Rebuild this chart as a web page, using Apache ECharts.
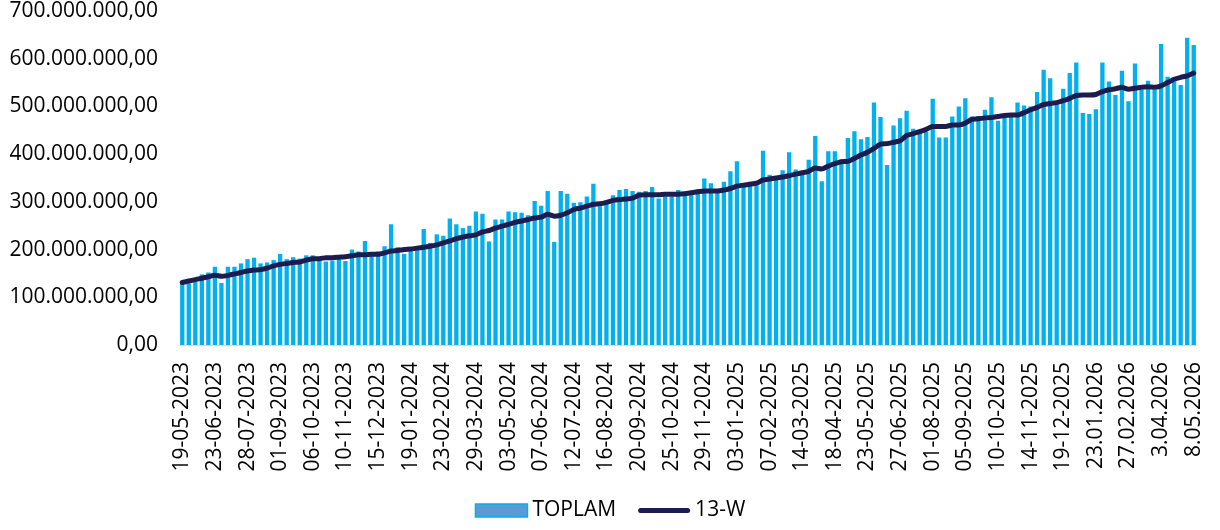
<!DOCTYPE html>
<html>
<head>
<meta charset="utf-8">
<title>TOPLAM - 13-W</title>
<script src="https://cdn.jsdelivr.net/npm/echarts@6/dist/echarts.min.js"></script>
<style>
  html, body { margin: 0; padding: 0; background: #fff; }
  #main { width: 1220px; height: 530px; }
</style>
</head>
<body>
<div id="main"></div>
<script>
// weekly totals, millions
var toplam = [
  132, 129, 132, 148, 152, 164, 130, 164, 164, 171,
  180, 183, 171, 173, 178, 191, 180, 184, 181, 188,
  188, 177, 175, 177, 188, 176, 200, 196, 218, 195,
  196, 207, 253, 205, 191, 198, 202, 243, 214, 232,
  229, 265, 253, 245, 250, 280, 275, 217, 263, 263,
  280, 278, 277, 272, 302, 292, 323, 216, 323, 317,
  298, 299, 311, 338, 291, 300, 314, 325, 327, 323,
  321, 323, 331, 307, 311, 311, 325, 314, 318, 326,
  349, 339, 325, 342, 364, 385, 332, 342, 335, 407,
  357, 347, 366, 404, 368, 364, 388, 438, 343, 406,
  406, 388, 434, 448, 431, 436, 508, 478, 377, 460,
  475, 491, 453, 451, 447, 516, 435, 435, 479, 500,
  517, 479, 480, 493, 519, 470, 477, 481, 508, 502,
  500, 530, 577, 559, 504, 537, 570, 592, 486, 484,
  494, 592, 552, 524, 575, 511, 590, 535, 554, 535,
  631, 562, 552, 545, 644, 629
]

// 13 week line, millions
var w13 = [
  131, 134, 137, 140, 143, 146, 144, 146, 149, 152,
  155, 157, 158, 161, 166, 169, 171, 173, 174, 178,
  181, 181, 183, 183, 184, 185, 187, 189, 189, 190,
  190, 193, 197, 198, 200, 201, 203, 205, 207, 210,
  214, 218, 223, 226, 229, 231, 237, 240, 245, 249,
  253, 257, 260, 263, 266, 268, 274, 270, 272, 277,
  284, 287, 291, 295, 296, 299, 303, 305, 306, 308,
  314, 315, 315, 315, 316, 316, 316, 317, 319, 321,
  323, 323, 323, 325, 328, 333, 335, 337, 339, 346,
  348, 350, 352, 355, 358, 361, 364, 371, 369, 375,
  380, 384, 385, 391, 398, 404, 412, 421, 422, 425,
  428, 439, 443, 447, 452, 458, 458, 458, 461, 461,
  465, 473, 474, 476, 477, 479, 481, 482, 482, 487,
  493, 498, 504, 506, 508, 512, 517, 523, 524, 524,
  525, 531, 535, 537, 540, 536, 538, 540, 541, 540,
  543, 550, 557, 561, 564, 570
]

// week dates, 19-05-2023 .. 8.05.2026
var firstWeek = Date.UTC(2023, 4, 19)
var dates = []
for (var i = 0; i < toplam.length; i++) {
  var d = new Date(firstWeek + i * 7 * 86400000)
  var dd = d.getUTCDate()
  var mm = ('0' + (d.getUTCMonth() + 1)).slice(-2)
  var yy = d.getUTCFullYear()
  if (yy >= 2026) {
    dates.push(dd + '.' + mm + '.' + yy)
  } else {
    dates.push(('0' + dd).slice(-2) + '-' + mm + '-' + yy)
  }
}

var yTicks = { min: 0, max: 700, step: 100 }

function trNumber (v) {
  var s = String(Math.round(v * 1000000)).replace(/\B(?=(\d{3})+(?!\d))/g, '.')
  return s + ',00'
}

var font = '"Open Sans", "Noto Sans", sans-serif'
var navy = '#1C1C4E'
var myChart = echarts.init(document.getElementById('main'))
myChart.setOption({
  animation: false,
  textStyle: { fontFamily: font, color: '#000' },
  grid: { left: 179, right: 23, top: 11, bottom: 185 },
  legend: {
    left: 'center',
    bottom: 4,
    itemWidth: 52,
    itemHeight: 13,
    itemGap: 22,
    textStyle: { fontFamily: font, fontSize: 21, color: '#000' },
    data: [
      { name: 'TOPLAM', icon: 'rect', itemStyle: { color: '#5B9BD5', borderColor: '#00B0F0', borderWidth: 1.5 } },
      {
        name: '13-W',
        // thick rounded stroke, like the series line
        icon: 'path://M2.5,0 L49.5,0 A2.5,2.5 0 0 1 49.5,5 L2.5,5 A2.5,2.5 0 0 1 2.5,0 Z',
        itemStyle: { color: navy, borderWidth: 0 }
      }
    ]
  },
  xAxis: {
    type: 'category',
    data: dates,
    axisLine: { lineStyle: { color: '#D9D9D9', width: 1 } },
    axisTick: { show: false },
    axisLabel: {
      interval: 4,
      rotate: 90,
      margin: 17,
      fontFamily: font,
      fontSize: 21,
      color: '#000'
    }
  },
  yAxis: {
    type: 'value',
    min: yTicks.min,
    max: yTicks.max,
    interval: yTicks.step,
    splitLine: { show: false },
    axisLine: { show: false },
    axisTick: { show: false },
    axisLabel: {
      margin: 21,
      fontFamily: font,
      fontSize: 21,
      color: '#000',
      formatter: trNumber
    }
  },
  series: [
    {
      name: 'TOPLAM',
      type: 'bar',
      data: toplam,
      barCategoryGap: '34%',
      itemStyle: { color: '#00B0F0' }
    },
    {
      name: '13-W',
      type: 'line',
      data: w13,
      symbol: 'none',
      smooth: 0.2,
      z: 5,
      lineStyle: { color: navy, width: 5, cap: 'round', join: 'round' },
      itemStyle: { color: navy }
    }
  ]
})
</script>
</body>
</html>
